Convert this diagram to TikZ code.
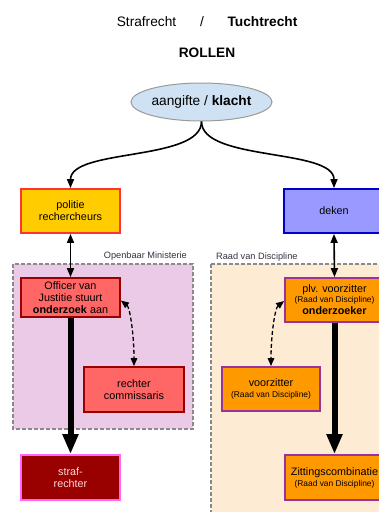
\documentclass[tikz,border=0pt]{standalone}
\usepackage{fontspec}
\setmainfont{Liberation Sans}
\usetikzlibrary{arrows.meta,shapes.geometric}

\definecolor{ellfill}{HTML}{CFE2F3}
\definecolor{ellline}{HTML}{9A9A9A}
\definecolor{polfill}{HTML}{FFCC00}
\definecolor{polline}{HTML}{FF3333}
\definecolor{offfill}{HTML}{FF6666}
\definecolor{offline}{HTML}{990000}
\definecolor{omfill}{HTML}{EBCAE8}
\definecolor{rvdfill}{HTML}{FDEBD4}
\definecolor{zonegray}{HTML}{8A8A8A}
\definecolor{dekfill}{HTML}{9999FF}
\definecolor{dekline}{HTML}{0000CC}
\definecolor{orfill}{HTML}{FF9900}
\definecolor{orline}{HTML}{993399}
\definecolor{strfill}{HTML}{990000}
\definecolor{strline}{HTML}{FF66FF}
\definecolor{strtext}{HTML}{FFD6D6}
\definecolor{zonetext}{HTML}{333344}

\newcommand{\titlesize}{\fontsize{13.7}{16}\selectfont}
\newcommand{\boxsize}{\fontsize{10.8}{12}\selectfont}
\newcommand{\smallsize}{\fontsize{8.4}{10}\selectfont}
\newcommand{\zonesize}{\fontsize{9.2}{11}\selectfont}

\tikzset{
  role/.style={draw, line width=1.8pt, rectangle, inner sep=0pt,
    minimum width=99pt, minimum height=44pt, align=center, font=\boxsize},
  zone/.style={draw=zonegray, line width=1.3pt, dash pattern=on 4pt off 2pt},
  zonelabel/.style={font=\zonesize, text=zonetext, inner sep=0pt},
  thin arrow/.style={line width=1.6pt, -{Triangle[length=9pt,width=7pt]}},
  both arrow/.style={line width=1.6pt, {Triangle[length=9pt,width=7pt]}-{Triangle[length=9pt,width=7pt]}},
  dash arrow/.style={line width=1.3pt, dash pattern=on 4pt off 2.5pt,
    {Triangle[length=8pt,width=6.5pt]}-{Triangle[length=8pt,width=6.5pt]}},
  thick arrow/.style={line width=6pt, -{Triangle[length=20pt,width=15pt]}},
}

\begin{document}
\begin{tikzpicture}[x=1pt, y=-1pt]
  \useasboundingbox (0,0) rectangle (379,512);
  \clip (0,0) rectangle (379,512);
  \fill[white] (0,0) rectangle (379,512);

  % headings
  \node[font=\titlesize] (straf) at (146.5,22) {Strafrecht};
  \node[font=\titlesize] (slash) at (202,22) {/};
  \node[font=\titlesize\bfseries] (tucht) at (262.5,22) {Tuchtrecht};
  \node[font=\titlesize\bfseries] (rollen) at (207,53) {ROLLEN};

  % grouping zones
  \filldraw[zone, fill=omfill] (13,264) rectangle (193,429);
  \filldraw[zone, fill=rvdfill] (211,264) rectangle (420,540);
  \node[zonelabel, anchor=east] (omlabel) at (187,256) {Openbaar Ministerie};
  \node[zonelabel, anchor=west] (rvdlabel) at (216,257) {Raad van Discipline};

  % start
  \node[ellipse, draw=ellline, line width=1pt, fill=ellfill, inner sep=0pt,
        minimum width=137pt, minimum height=38pt, font=\titlesize] (ell) at (201.5,102)
        {aangifte / \textbf{klacht}};

  % criminal law side
  \node[role, draw=polline, fill=polfill] (pol) at (70.5,211) {politie\\rechercheurs};
  \node[role, draw=offline, fill=offfill, minimum height=39pt] (off) at (70.5,297.5)
        {Officer van\\Justitie stuurt\\\textbf{onderzoek} aan};
  \node[role, draw=offline, fill=offfill, minimum width=100pt, minimum height=45pt] (rec) at (134,389.5)
        {rechter\\commissaris};
  \node[role, draw=strline, fill=strfill, text=strtext, minimum height=45pt] (str) at (70.5,477.5)
        {straf-\\rechter};

  % disciplinary law side
  \node[role, draw=dekline, fill=dekfill, minimum width=100pt] (dek) at (334,211) {deken};
  \node[role, draw=orline, fill=orfill] (plv) at (334.5,300)
        {plv. voorzitter\\[-2pt]{\smallsize (Raad van Discipline)}\\\textbf{onderzoeker}};
  \node[role, draw=orline, fill=orfill, minimum width=98pt] (voo) at (271,389)
        {voorzitter\\[-1pt]{\smallsize (Raad van Discipline)}};
  \node[role, draw=orline, fill=orfill, minimum height=45pt] (zit) at (334.5,477.5)
        {Zittingscombinatie\\[-1pt]{\smallsize (Raad van Discipline)}};

  % connectors
  \draw[thin arrow] (ell.south) .. controls +(0,40) and +(0,-40) .. (pol.north);
  \draw[thin arrow] (ell.south) .. controls +(0,40) and +(0,-40) .. (dek.north);
  \draw[both arrow] (pol.south) -- (off.north);
  \draw[both arrow] (dek.south) -- (plv.north);
  \draw[dash arrow] ([yshift=-3pt]off.east) .. controls +(9,7) and +(0,-32) .. (rec.north);
  \draw[dash arrow] ([yshift=-1pt]plv.west) .. controls +(-9,7) and +(0,-32) .. (voo.north);
  \draw[thick arrow] (off.south) -- (str.north);
  \draw[thick arrow] (plv.south) -- (zit.north);
\end{tikzpicture}
\end{document}
